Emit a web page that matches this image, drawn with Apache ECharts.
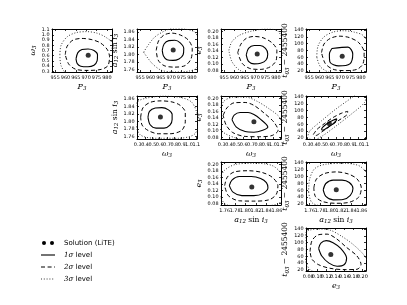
<!DOCTYPE html>
<html><head><meta charset="utf-8">
<script src="https://cdn.jsdelivr.net/npm/echarts@6/dist/echarts.min.js"></script>
<style>html,body{margin:0;padding:0;background:#fff}#c{width:407px;height:305px}</style>
</head><body><div id="c"></div>
<script>
// ---- tick labels ----
const ticksP3 = [955, 960, 965, 970, 975, 980];
const ticksOmega = [0.3, 0.4, 0.5, 0.6, 0.7, 0.8, 0.9, 1.0, 1.1];
const ticksA = [1.76, 1.78, 1.80, 1.82, 1.84, 1.86];
const ticksE = [0.08, 0.10, 0.12, 0.14, 0.16, 0.18, 0.20];
const ticksT = [20, 40, 60, 80, 100, 120, 140];

// ---- solution points (LiTE) per panel ----
const dotA = [971, 0.61];
const dotB = [971, 1.812];
const dotC = [971, 0.131];
const dotD = [971, 63];
const dotE = [0.61, 1.812];
const dotF = [0.74, 0.128];
const dotG = [0.61, 62];
const dotH = [1.812, 0.131];
const dotI = [1.811, 62];
const dotJ = [0.130, 65];

// ---- contour levels (1, 2, 3 sigma) ----
// P3 vs omega3
const solidA = [[965.1,0.54],[966.0,0.66],[968.0,0.72],[970.9,0.73],[973.8,0.70],[975.5,0.62],[975.3,0.50],[973.8,0.42],[970.9,0.39],[967.4,0.40],[965.7,0.45]];
const dashedA = [[959.9,0.62],[960.8,0.78],[963.7,0.90],[968.0,0.93],[972.4,0.91],[976.7,0.85],[980.2,0.72],[981.3,0.58],[980.5,0.41],[977.3,0.34],[970.9,0.32],[965.1,0.34],[961.6,0.44]];
const dottedA = [[957.3,0.62],[957.9,0.80],[960.8,0.96],[965.1,1.04],[970.3,1.06],[975.3,1.03],[979.6,0.95],[983.1,0.82],[984,0.5],[983,0.25],[968,0.25],[960.8,0.26],[957.9,0.41]];
// P3 vs a12 sin i3
const solidB = [[965.7,1.811],[966.6,1.828],[968.9,1.837],[971.8,1.838],[974.4,1.831],[976.1,1.816],[975.8,1.799],[973.8,1.788],[970.9,1.784],[968.0,1.786],[966.3,1.796]];
const dashedB = [[962.8,1.811],[963.9,1.836],[966.6,1.852],[970.3,1.857],[974.4,1.852],[978.2,1.839],[980.2,1.816],[979.6,1.788],[976.7,1.770],[971.5,1.766],[966.6,1.770],[963.7,1.785]];
const dottedB = [[956.7,1.806],[959.3,1.828],[962.2,1.847],[966.6,1.862],[970.9,1.870],[976.7,1.868],[981.9,1.857],[984,1.811],[982.5,1.765],[978.2,1.755],[970.9,1.753],[965.1,1.758],[960.8,1.776]];
// P3 vs e3
const solidC = [[965.7,0.128],[966.8,0.148],[969.5,0.157],[972.4,0.157],[975.0,0.148],[976.1,0.131],[975.3,0.112],[972.6,0.102],[969.5,0.100],[966.8,0.108]];
const dashedC = [[961.6,0.135],[963.1,0.161],[965.7,0.179],[969.5,0.185],[973.8,0.181],[978.2,0.165],[980.5,0.142],[980.2,0.112],[977.3,0.091],[972.4,0.083],[967.4,0.086],[963.7,0.102]];
const dottedC = [[957.3,0.142],[958.7,0.168],[962.2,0.188],[968.0,0.201],[975.3,0.208],[981.1,0.201],[984,0.155],[984,0.088],[976.7,0.068],[968.0,0.068],[962.2,0.082],[958.7,0.108]];
// P3 vs t03
const solidD = [[966.0,86],[973.8,90],[976.1,70],[974.7,41],[969.2,35],[965.1,46],[964.8,70]];
const dashedD = [[961.0,74],[962.2,99],[965.1,115],[969.5,122],[974.4,118],[979.0,103],[981.6,74],[981.1,42],[978.2,25],[972.4,21],[966.6,25],[962.8,42]];
const dottedD = [[958.7,61],[959.3,93],[962.2,120],[966.6,134],[971.5,138],[976.7,134],[981.1,124],[984,93],[984,30],[979.6,11],[968.0,11],[960.8,30]];
// omega3 vs a12 sin i3
const solidE = [[0.44,1.811],[0.46,1.827],[0.54,1.836],[0.63,1.837],[0.72,1.831],[0.77,1.819],[0.77,1.805],[0.74,1.790],[0.66,1.782],[0.55,1.782],[0.47,1.791]];
const dashedE = [[0.34,1.811],[0.37,1.836],[0.47,1.851],[0.62,1.855],[0.77,1.852],[0.88,1.843],[0.95,1.824],[0.95,1.799],[0.90,1.776],[0.74,1.767],[0.58,1.767],[0.44,1.776],[0.36,1.790]];
const dottedE = [[0.25,1.811],[0.29,1.851],[0.41,1.862],[0.66,1.868],[0.91,1.863],[1.04,1.851],[1.11,1.822],[1.13,1.793],[1.07,1.765],[0.86,1.755],[0.54,1.755],[0.33,1.765]];
// omega3 vs e3
const solidF = [[0.44,0.135],[0.47,0.149],[0.55,0.157],[0.66,0.157],[0.74,0.151],[0.82,0.138],[0.93,0.112],[0.86,0.102],[0.74,0.096],[0.62,0.098],[0.50,0.112]];
const dashedF = [[0.32,0.148],[0.37,0.171],[0.47,0.187],[0.62,0.188],[0.74,0.179],[0.88,0.155],[1.01,0.128],[1.07,0.102],[0.99,0.086],[0.82,0.082],[0.62,0.083],[0.45,0.095],[0.36,0.118]];
const dottedF = [[0.25,0.155],[0.33,0.192],[0.45,0.204],[0.62,0.205],[0.78,0.192],[0.95,0.168],[1.09,0.142],[1.15,0.102],[1.11,0.075],[0.86,0.068],[0.54,0.075],[0.29,0.102]];
// omega3 vs t03
const solidG = [[0.50,45],[0.52,52],[0.59,64],[0.66,72],[0.71,76],[0.70,70],[0.65,60],[0.58,50],[0.52,43]];
const dashedG = [[0.39,30],[0.44,45],[0.54,62],[0.66,80],[0.78,93],[0.86,98],[0.85,88],[0.74,72],[0.62,55],[0.50,37],[0.42,27]];
const dottedG = [[0.31,20],[0.34,40],[0.50,70],[0.70,105],[0.91,137],[0.99,149],[1.11,146],[1.09,124],[0.91,90],[0.70,55],[0.52,27],[0.39,14]];
// a12 sin i3 vs e3
const solidH = [[1.769,0.135],[1.774,0.152],[1.788,0.163],[1.811,0.163],[1.829,0.157],[1.840,0.144],[1.843,0.128],[1.834,0.111],[1.816,0.104],[1.793,0.104],[1.776,0.115]];
const dashedH = [[1.760,0.135],[1.765,0.161],[1.778,0.177],[1.805,0.181],[1.831,0.176],[1.851,0.161],[1.862,0.135],[1.859,0.108],[1.845,0.091],[1.816,0.087],[1.788,0.088],[1.767,0.104]];
const dottedH = [[1.747,0.142],[1.759,0.181],[1.782,0.201],[1.816,0.204],[1.851,0.197],[1.870,0.168],[1.874,0.115],[1.862,0.078],[1.811,0.071],[1.765,0.075],[1.751,0.102]];
// a12 sin i3 vs t03
const solidI = [[1.786,61],[1.791,80],[1.805,90],[1.822,90],[1.836,83],[1.843,65],[1.838,45],[1.824,33],[1.805,32],[1.791,42]];
const dashedI = [[1.768,67],[1.773,93],[1.788,109],[1.811,114],[1.834,108],[1.851,93],[1.859,67],[1.854,40],[1.836,25],[1.811,22],[1.785,27],[1.771,42]];
const dottedI = [[1.758,55],[1.760,93],[1.770,124],[1.793,137],[1.828,139],[1.857,130],[1.874,93],[1.874,30],[1.845,11],[1.799,11],[1.765,23]];
// e3 vs t03
const solidJ = [[0.103,83],[0.108,99],[0.120,106],[0.135,100],[0.152,83],[0.165,55],[0.160,36],[0.144,31],[0.126,40],[0.110,61]];
const dashedJ = [[0.084,74],[0.088,105],[0.102,123],[0.122,125],[0.142,112],[0.165,86],[0.188,61],[0.197,36],[0.188,22],[0.161,21],[0.128,25],[0.102,36],[0.088,52]];
const dottedJ = [[0.072,80],[0.075,130],[0.102,140],[0.128,137],[0.155,118],[0.181,93],[0.205,61],[0.215,30],[0.201,13],[0.142,11],[0.088,17],[0.075,42]];

// ---- axis definitions ----
const axes = {
  P3:    { min: 953.5, max: 982.5, ticks: ticksP3,    dec: 0, name: '{i|P}{s|3}' },
  omega: { min: 0.29,  max: 1.11,  ticks: ticksOmega, dec: 1, name: '{i|ω}{s|3}' },
  a:     { min: 1.753, max: 1.868, ticks: ticksA,     dec: 2, name: '{i|a}{s|12}{n| sin }{i|i}{s|3}' },
  e:     { min: 0.075, max: 0.208, ticks: ticksE,     dec: 2, name: '{i|e}{s|3}' },
  t:     { min: 17,    max: 143,   ticks: ticksT,     dec: 0, name: '{i|t}{s|03}{n| − 2455400}' }
};

const panels = [
  { r: 0, c: 0, x: 'P3', y: 'omega', s: solidA, d: dashedA, o: dottedA, dot: dotA },
  { r: 0, c: 1, x: 'P3', y: 'a',     s: solidB, d: dashedB, o: dottedB, dot: dotB },
  { r: 0, c: 2, x: 'P3', y: 'e',     s: solidC, d: dashedC, o: dottedC, dot: dotC },
  { r: 0, c: 3, x: 'P3', y: 't',     s: solidD, d: dashedD, o: dottedD, dot: dotD },
  { r: 1, c: 1, x: 'omega', y: 'a',  s: solidE, d: dashedE, o: dottedE, dot: dotE },
  { r: 1, c: 2, x: 'omega', y: 'e',  s: solidF, d: dashedF, o: dottedF, dot: dotF },
  { r: 1, c: 3, x: 'omega', y: 't',  s: solidG, d: dashedG, o: dottedG, dot: dotG },
  { r: 2, c: 2, x: 'a', y: 'e',      s: solidH, d: dashedH, o: dottedH, dot: dotH },
  { r: 2, c: 3, x: 'a', y: 't',      s: solidI, d: dashedI, o: dottedI, dot: dotI },
  { r: 3, c: 3, x: 'e', y: 't',      s: solidJ, d: dashedJ, o: dottedJ, dot: dotJ }
];

// ---- layout ----
const colLeft = [52, 137, 221, 306];
const rowTop = [29, 96, 162, 228];
const W = 60, H = 43;

const tickFont = 'DejaVu Sans';
const mathFont = 'DejaVu Serif';
const richName = {
  i: { fontFamily: mathFont, fontStyle: 'italic', fontSize: 8, color: '#000' },
  s: { fontFamily: mathFont, fontStyle: 'italic', fontSize: 5.5, color: '#000', padding: [4, 0, 0, 0] },
  n: { fontFamily: mathFont, fontSize: 7.5, color: '#000' }
};
const black = '#000';
const LABEL_SIZE = 4.9;

const grid = [], xAxis = [], yAxis = [], series = [];
const close = arr => arr.concat([arr[0]]);
const evens = arr => arr.filter((_, i) => i % 2 === 0);
const odds = arr => arr.filter((_, i) => i % 2 === 1);

panels.forEach((p, gi) => {
  grid.push({ left: colLeft[p.c], top: rowTop[p.r], width: W, height: H });
  const ax = axes[p.x], ay = axes[p.y];
  const common = (a) => ({
    gridIndex: gi, type: 'value', min: a.min, max: a.max,
    splitLine: { show: false },
    axisLine: { show: true, onZero: false, lineStyle: { color: black, width: 1 } },
    axisTick: { show: true, inside: true, length: 2, customValues: a.ticks, lineStyle: { color: black, width: 0.8 } }
  });
  const labelCfg = (a, vals, margin) => ({
    show: true, customValues: vals, fontSize: LABEL_SIZE, fontFamily: tickFont, color: black, margin,
    formatter: v => v.toFixed(a.dec)
  });
  const labelOnly = (a, vals, pos, margin) => ({
    gridIndex: gi, type: 'value', min: a.min, max: a.max, position: pos,
    splitLine: { show: false }, axisLine: { show: false }, axisTick: { show: false },
    axisLabel: labelCfg(a, vals, margin)
  });
  const xi = xAxis.length;
  xAxis.push(Object.assign(common(ax), {
    position: 'bottom',
    axisLabel: labelCfg(ax, evens(ax.ticks), 3),
    name: ax.name, nameLocation: 'middle', nameGap: 10,
    nameTextStyle: { rich: richName }
  }));
  xAxis.push(Object.assign(common(ax), { position: 'top', axisLabel: { show: false } }));
  xAxis.push(labelOnly(ax, odds(ax.ticks), 'bottom', 3));
  const yi = yAxis.length;
  yAxis.push(Object.assign(common(ay), {
    position: 'left',
    axisLabel: labelCfg(ay, evens(ay.ticks), 2.5),
    name: ay.name, nameLocation: 'middle', nameRotate: 90,
    nameGap: (p.y === 't' ? 11 : (p.y === 'omega' ? 12 : 14)),
    nameTextStyle: { rich: richName }
  }));
  yAxis.push(Object.assign(common(ay), { position: 'right', axisLabel: { show: false } }));
  yAxis.push(labelOnly(ay, odds(ay.ticks), 'left', 2.5));

  const base = { type: 'line', xAxisIndex: xi, yAxisIndex: yi, symbol: 'none', smooth: 0.3, silent: true, clip: true, z: 2 };
  series.push(Object.assign({}, base, { name: '3σ level', data: close(p.o), lineStyle: { color: '#222', width: 0.9, type: [1, 1.8] } }));
  series.push(Object.assign({}, base, { name: '2σ level', data: close(p.d), lineStyle: { color: black, width: 1, type: [4, 2.6] } }));
  series.push(Object.assign({}, base, { name: '1σ level', data: close(p.s), lineStyle: { color: black, width: 1.1, type: 'solid' } }));
  series.push({ type: 'scatter', name: 'Solution (LiTE)', xAxisIndex: xi, yAxisIndex: yi, data: [p.dot],
    symbol: 'circle', symbolSize: 5, itemStyle: { color: black }, silent: true, z: 3 });
});

// ---- legend (drawn manually, matplotlib style) ----
const legY = [243, 255, 267, 279];
const legendText = { fontFamily: tickFont, fontSize: 7, fill: '#000', verticalAlign: 'middle', align: 'left' };
const graphic = [
  { type: 'circle', shape: { cx: 44, cy: legY[0], r: 2 }, style: { fill: black } },
  { type: 'circle', shape: { cx: 52, cy: legY[0], r: 2 }, style: { fill: black } },
  { type: 'text', x: 64, y: legY[0], style: Object.assign({ text: 'Solution (LiTE)' }, legendText) },
  { type: 'line', shape: { x1: 41, y1: legY[1], x2: 55, y2: legY[1] }, style: { stroke: black, lineWidth: 1.1 } },
  { type: 'text', x: 64, y: legY[1], style: Object.assign({ text: '{m|1σ}{n| level}', rich: {
      m: { fontFamily: mathFont, fontStyle: 'italic', fontSize: 7 }, n: { fontFamily: tickFont, fontSize: 7 } } }, legendText) },
  { type: 'line', shape: { x1: 41, y1: legY[2], x2: 55, y2: legY[2] }, style: { stroke: black, lineWidth: 1, lineDash: [4, 2.6] } },
  { type: 'text', x: 64, y: legY[2], style: Object.assign({ text: '{m|2σ}{n| level}', rich: {
      m: { fontFamily: mathFont, fontStyle: 'italic', fontSize: 7 }, n: { fontFamily: tickFont, fontSize: 7 } } }, legendText) },
  { type: 'line', shape: { x1: 41, y1: legY[3], x2: 55, y2: legY[3] }, style: { stroke: '#222', lineWidth: 0.9, lineDash: [1, 1.8] } },
  { type: 'text', x: 64, y: legY[3], style: Object.assign({ text: '{m|3σ}{n| level}', rich: {
      m: { fontFamily: mathFont, fontStyle: 'italic', fontSize: 7 }, n: { fontFamily: tickFont, fontSize: 7 } } }, legendText) }
];

const chart = echarts.init(document.getElementById('c'), null, { renderer: 'canvas' });
chart.setOption({
  animation: false,
  backgroundColor: '#fff',
  grid, xAxis, yAxis, series, graphic
});
</script>
</body></html>
